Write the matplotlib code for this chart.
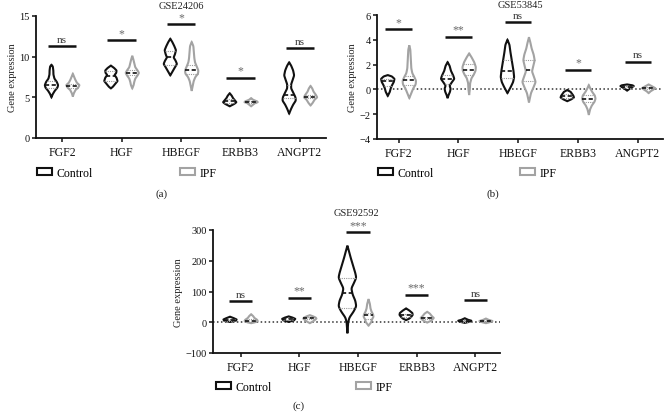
import numpy as np
import matplotlib
matplotlib.use("Agg")
import matplotlib.pyplot as plt
from matplotlib.patches import Patch

plt.rcParams['font.family'] = ['Liberation Serif', 'DejaVu Serif']

GENES = ["FGF2", "HGF", "HBEGF", "ERBB3", "ANGPT2"]
GROUPS = ["Control", "IPF"]

# ---------------- Panel (a) GSE24206 ----------------
A_TITLE = "GSE24206"
A_YTICKS = [0, 5, 10, 15]
# violin outlines: (value, relative density) knots per gene
A_CTRL = [
    [(9.0, 0), (8.8, .2), (8.3, .28), (7.8, .3), (7.3, .45), (6.9, .8), (6.5, 1.0), (6.2, .9), (5.8, .5), (5.4, .2), (5.0, 0)],
    [(8.9, 0), (8.6, .5), (8.3, .85), (8.0, .8), (7.75, .55), (7.4, .85), (7.0, 1.0), (6.6, .6), (6.3, .3), (6.1, 0)],
    [(12.2, 0), (11.8, .3), (11.3, .6), (10.8, .85), (10.3, .7), (9.9, .5), (9.5, .8), (9.1, 1.0), (8.7, .7), (8.2, .35), (7.7, 0)],
    [(5.5, 0), (5.2, .3), (4.9, .5), (4.6, .8), (4.4, 1.0), (4.2, .7), (3.9, 0)],
    [(9.3, 0), (8.9, .3), (8.3, .6), (7.7, .75), (7.2, .55), (6.6, .3), (6.1, .3), (5.6, .6), (5.0, .95), (4.6, 1.0), (4.1, .6), (3.6, .3), (3.0, 0)],
]
A_IPF = [
    [(7.9, 0), (7.6, .15), (7.2, .35), (6.8, .6), (6.5, 1.0), (6.2, .8), (5.9, .4), (5.5, .15), (5.1, 0)],
    [(10.1, 0), (9.7, .15), (9.2, .3), (8.7, .45), (8.3, .8), (8.0, 1.0), (7.7, .8), (7.3, .45), (6.9, .3), (6.5, .2), (6.1, 0)],
    [(11.8, 0), (11.3, .25), (10.8, .3), (10.3, .35), (9.8, .4), (9.3, .5), (8.8, .75), (8.3, 1.0), (7.9, .95), (7.5, .55), (7.0, .3), (6.4, .15), (5.8, 0)],
    [(4.9, 0), (4.7, .3), (4.5, .9), (4.4, 1.0), (4.3, .6), (4.1, .3), (3.9, 0)],
    [(6.4, 0), (6.1, .25), (5.7, .45), (5.3, .8), (5.0, 1.0), (4.7, .6), (4.3, .3), (4.0, 0)],
]
A_CTRL_MED = [6.5, 7.6, 9.9, 4.5, 5.3]
A_IPF_MED = [6.45, 8.0, 8.35, 4.45, 5.1]
A_CTRL_Q = [(6.2, 7.0), (7.0, 8.2), (9.0, 10.7), (4.3, 4.8), (4.9, 6.5)]
A_IPF_Q = [(6.2, 6.7), (7.7, 8.3), (7.9, 9.0), (4.35, 4.55), (4.9, 5.3)]
A_SIG = ["ns", "*", "*", "*", "ns"]
A_SIG_Y = [11.3, 12.0, 14.0, 7.4, 11.1]

# ---------------- Panel (b) GSE53845 ----------------
B_TITLE = "GSE53845"
B_YTICKS = [-4, -2, 0, 2, 4, 6]
B_CTRL = [
    [(1.15, 0), (1.05, .6), (0.85, 1.0), (0.6, .9), (0.35, .65), (0.1, .45), (-0.2, .3), (-0.53, 0)],
    [(2.2, 0), (1.9, .3), (1.5, .5), (1.1, .85), (0.85, 1.0), (0.55, .6), (0.3, .3), (0.05, .45), (-0.2, .35), (-0.45, .15), (-0.7, 0)],
    [(4.0, 0), (3.6, .3), (3.0, .45), (2.5, .6), (2.0, .75), (1.5, .9), (1.0, 1.0), (0.6, .85), (0.2, .5), (-0.3, 0)],
    [(-0.05, 0), (-0.2, .5), (-0.35, .7), (-0.5, .9), (-0.65, 1.0), (-0.8, .6), (-0.95, 0)],
    [(0.4, 0), (0.33, .8), (0.27, 1.0), (0.2, .8), (0.1, .5), (0.0, .25), (-0.1, 0)],
]
B_IPF = [
    [(3.55, 0), (3.2, .15), (2.7, .2), (2.2, .25), (1.7, .3), (1.3, .45), (1.0, .75), (0.7, 1.0), (0.4, .95), (0.1, .6), (-0.3, .3), (-0.7, 0)],
    [(2.9, 0), (2.6, .35), (2.2, .75), (1.8, 1.0), (1.5, .95), (1.2, .7), (0.9, .35), (0.5, .15), (0.0, .1), (-0.45, 0)],
    [(4.2, 0), (3.8, .2), (3.3, .4), (2.8, .7), (2.35, .85), (1.9, .65), (1.45, .45), (1.0, .75), (0.6, 1.0), (0.2, .7), (-0.3, .3), (-1.05, 0)],
    [(0.35, 0), (0.1, .2), (-0.2, .5), (-0.5, .9), (-0.75, 1.0), (-1.0, .85), (-1.3, .45), (-1.6, .2), (-2.05, 0)],
    [(0.4, 0), (0.25, .5), (0.1, 1.0), (-0.05, .6), (-0.15, .3), (-0.3, 0)],
]
B_CTRL_MED = [0.65, 0.85, 1.5, -0.55, 0.22]
B_IPF_MED = [0.75, 1.6, 1.55, -0.75, 0.1]
B_CTRL_Q = [(0.3, 0.85), (0.4, 1.2), (0.9, 2.4), (-0.7, -0.35), (0.15, 0.3)]
B_IPF_Q = [(0.35, 1.1), (1.15, 2.05), (0.65, 2.35), (-1.0, -0.45), (0.0, 0.2)]
B_SIG = ["*", "**", "ns", "*", "ns"]
B_SIG_Y = [4.85, 4.26, 5.44, 1.58, 2.25]

# ---------------- Panel (c) GSE92592 ----------------
C_TITLE = "GSE92592"
C_YTICKS = [-100, 0, 100, 200, 300]
C_CTRL = [
    [(18, 0), (13, .6), (9, 1.0), (5, .9), (1, 0)],
    [(19, 0), (15, .6), (11, 1.0), (6, .8), (1, 0)],
    [(249, 0), (230, .25), (210, .5), (185, .85), (160, 1.2), (145, 1.35), (128, 1.0), (110, .6), (90, .8), (70, 1.2), (52, 1.35), (35, .95), (15, .3), (0, .12), (-36, 0)],
    [(45, 0), (38, .5), (30, .95), (24, 1.0), (18, .8), (12, .5), (7, 0)],
    [(13, 0), (8, .5), (5, 1.0), (2, .8), (-2, 0)],
]
C_IPF = [
    [(26, 0), (20, .3), (14, .5), (8, .9), (4, 1.0), (0, .6), (-3, 0)],
    [(23, 0), (19, .5), (15, .9), (12, 1.0), (8, .8), (3, .5), (-3, 0)],
    [(75, 0), (60, .2), (45, .3), (35, .45), (25, .7), (18, .75), (10, .55), (0, .4), (-11, 0)],
    [(34, 0), (28, .4), (20, .7), (14, 1.0), (9, .8), (4, .5), (-1, 0)],
    [(12, 0), (8, .4), (4, 1.0), (1, .7), (-3, 0)],
]
C_CTRL_MED = [8, 10, 95, 22, 4]
C_IPF_MED = [5, 13, 22, 14, 3]
C_CTRL_Q = [(5, 11), (7, 13), (47, 145), (17, 28), (2, 6)]
C_IPF_Q = [(2, 9), (9, 16), (10, 30), (10, 18), (1, 5)]
C_SIG = ["ns", "**", "***", "***", "ns"]
C_SIG_Y = [70, 80, 292, 90, 73]

CTRL_COLOR = "#111111"
IPF_COLOR = "#a3a3a3"


def profile(knots):
    ys = np.array([k[0] for k in knots], float)
    ws = np.array([k[1] for k in knots], float)
    order = np.argsort(ys)
    ys, ws = ys[order], ws[order]
    grid = np.linspace(ys[0], ys[-1], 200)
    w = np.interp(grid, ys, ws)
    k = 15
    kern = np.hanning(k)
    kern /= kern.sum()
    wp = np.concatenate([np.zeros(k), w, np.zeros(k)])
    w = np.convolve(wp, kern, mode="same")[k:-k]
    w[0] = w[-1] = 0
    return grid, w


def draw_violin(ax, xc, knots, med, q, color, hw):
    grid, w = profile(knots)
    xs = np.concatenate([xc + w * hw, (xc - w * hw)[::-1]])
    yy = np.concatenate([grid, grid[::-1]])
    ax.fill(xs, yy, facecolor="white", edgecolor=color, lw=1.5, zorder=3)

    def width_at(v):
        return np.interp(v, grid, w) * hw

    for qv in q:
        ww = width_at(qv)
        ax.plot([xc - ww, xc + ww], [qv, qv], color="#9a9a9a", lw=0.8,
                ls=(0, (1, 1)), zorder=4)
    ww = width_at(med)
    ax.plot([xc - ww, xc + ww], [med, med], color="#111111", lw=1.2,
            ls=(0, (2.5, 1.5)), zorder=4)


def draw_panel(ax, title, yticks, ctrl, ipf, cmed, imed, cq, iq, sig, sigy,
               xlim, zero_line, sig_half=0.24, title_pad=5.5):
    off = 0.18
    hw = 0.112
    for i in range(len(GENES)):
        draw_violin(ax, i - off, ctrl[i], cmed[i], cq[i], CTRL_COLOR, hw)
        draw_violin(ax, i + off, ipf[i], imed[i], iq[i], IPF_COLOR, hw)
        ax.plot([i - sig_half, i + sig_half], [sigy[i], sigy[i]], color="#111111",
                lw=1.8, solid_capstyle="butt", clip_on=False, zorder=5)
        is_ns = sig[i] == "ns"
        col = "#3a3a3a" if is_ns else "#6a6a6a"
        ax.annotate(sig[i], (i, sigy[i]), xytext=(0, 3.0), textcoords="offset points",
                    ha="center", va="baseline", fontsize=8 if is_ns else 8.5,
                    color=col, annotation_clip=False)
    if zero_line:
        ax.axhline(0, color="#333333", lw=1.1, ls=(0, (1, 1.6)), zorder=2)
    ax.set_xlim(*xlim)
    ax.set_ylim(yticks[0], yticks[-1])
    ax.set_yticks(yticks)
    ax.set_yticklabels([str(t).replace("-", "\u2212") for t in yticks])
    ax.set_xticks(range(len(GENES)))
    ax.set_xticklabels(GENES, fontsize=8.5)
    ax.tick_params(axis="y", labelsize=7.5, length=3, width=1.1, pad=1.5, colors="#111111")
    ax.tick_params(axis="x", length=3, width=1.1, pad=2.5, colors="#111111")
    for s in ["top", "right"]:
        ax.spines[s].set_visible(False)
    for s in ["left", "bottom"]:
        ax.spines[s].set_linewidth(1.3)
        ax.spines[s].set_color("#111111")
    ax.set_ylabel("Gene expression", fontsize=7.5, labelpad=2, color="#222222")
    ax.set_title(title, fontsize=7.5, pad=title_pad, color="#222222")


W, H = 670, 414
fig = plt.figure(figsize=(W / 100, H / 100), dpi=100)


def add_axes(l, r, t, b):
    return fig.add_axes([l / W, 1 - b / H, (r - l) / W, (b - t) / H])


axA = add_axes(36, 326, 17, 139)
axB = add_axes(377, 663, 16, 140)
axC = add_axes(213, 500, 231, 354)

draw_panel(axA, A_TITLE, A_YTICKS, A_CTRL, A_IPF, A_CTRL_MED, A_IPF_MED, A_CTRL_Q,
           A_IPF_Q, A_SIG, A_SIG_Y, (-0.44, 4.44), False)
draw_panel(axB, B_TITLE, B_YTICKS, B_CTRL, B_IPF, B_CTRL_MED, B_IPF_MED, B_CTRL_Q,
           B_IPF_Q, B_SIG, B_SIG_Y, (-0.36, 4.42), True, 0.22)
draw_panel(axC, C_TITLE, C_YTICKS, C_CTRL, C_IPF, C_CTRL_MED, C_IPF_MED, C_CTRL_Q,
           C_IPF_Q, C_SIG, C_SIG_Y, (-0.47, 4.42), True, 0.2, title_pad=10.5)


def legend_entry(x, y, label, color):
    h = Patch(facecolor="white", edgecolor=color, lw=1.5)
    fig.legend(handles=[h], labels=[label], loc="center left",
               bbox_to_anchor=(x / W, 1 - y / H), frameon=False, fontsize=8.5,
               handlelength=1.3, handleheight=0.55, handletextpad=0.35,
               borderpad=0, borderaxespad=0)


for (cx, ix, ly) in [(37, 180, 174), (378, 520, 174), (216, 356, 388)]:
    legend_entry(cx, ly, GROUPS[0], CTRL_COLOR)
    legend_entry(ix, ly, GROUPS[1], IPF_COLOR)

for lab, x, y in [("(a)", 162, 194), ("(b)", 493, 194), ("(c)", 299, 406)]:
    fig.text(x / W, 1 - y / H, lab, ha="center", va="center", fontsize=8, color="#222222")

fig.savefig("out.png", dpi=100)
